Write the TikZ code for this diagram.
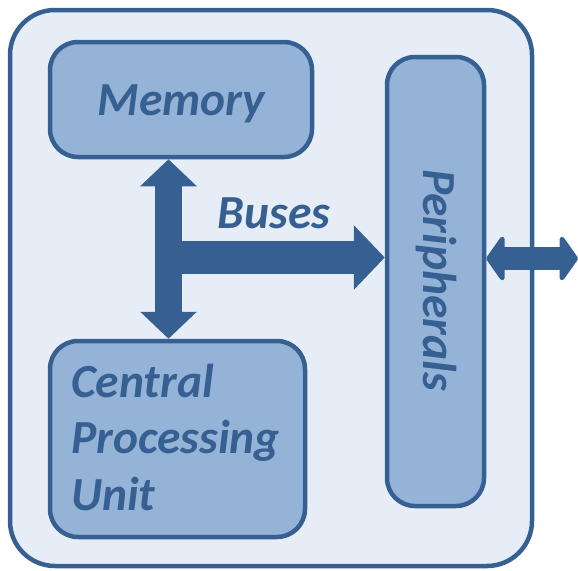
\documentclass[tikz,border=0pt]{standalone}
\usepackage{fontspec}
\setmainfont{Carlito}
\usetikzlibrary{arrows.meta}
\definecolor{dk}{HTML}{376092}
\definecolor{lt}{HTML}{95B3D7}
\definecolor{bg}{HTML}{E6EDF6}
\begin{document}
\begin{tikzpicture}[x=1pt,y=-1pt,
  box/.style={draw=dk, line width=4.5pt, fill=lt, rounded corners=28pt, inner sep=0pt},
  lbl/.style={text=dk, font=\fontsize{47.5}{56.5}\selectfont\bfseries\itshape, inner sep=0pt},
  bus/.style={draw=dk, line cap=butt}]
\useasboundingbox (0,0) rectangle (578,570);
% outer container fill
\node[fill=bg, rounded corners=45pt, minimum width=522pt, minimum height=556pt, inner sep=0pt] (outer) at (271,288) {};
% boxes
\node[box, minimum width=262pt, minimum height=115pt] (mem) at (181,99.5) {};
\node[box, minimum width=255pt, minimum height=196pt] (cpu) at (177.5,439) {};
\node[box, minimum width=97pt, minimum height=449pt] (per) at (435.5,281.5) {};
% labels
\node[lbl, anchor=base] (memt) at (181.5,115) {Memory};
\node[lbl, align=left, anchor=base west] (cput) at (71,510) {Central\\Processing\\Unit};
\node[lbl, rotate=-90] (pert) at ([xshift=1pt,yshift=1.5pt]per.center) {Peripherals};
% buses
\coordinate (vx) at (168.5,0);
\draw[bus, line width=27pt, {Triangle[length=27pt,width=55pt]}-{Triangle[length=27pt,width=55pt]}]
  (vx |- mem.south) -- (vx |- cpu.north);
\coordinate (hy) at (155,257.5);
\draw[bus, line width=33pt, -{Triangle[length=31pt,width=63pt]}] (hy) -- (hy -| per.west);
\node[lbl, anchor=base] (bust) at (274,228) {Buses};
\coordinate (ry) at (578,258.5);
\draw[bus, line width=23pt, {Triangle[round,length=19pt,width=53pt]}-{Triangle[round,length=19pt,width=53pt]}]
  (per.east |- ry) -- (ry);
% outer border on top
\node[draw=dk, line width=4.5pt, rounded corners=45pt, minimum width=522pt, minimum height=556pt, inner sep=0pt] (outerb) at (outer.center) {};
\end{tikzpicture}
\end{document}
